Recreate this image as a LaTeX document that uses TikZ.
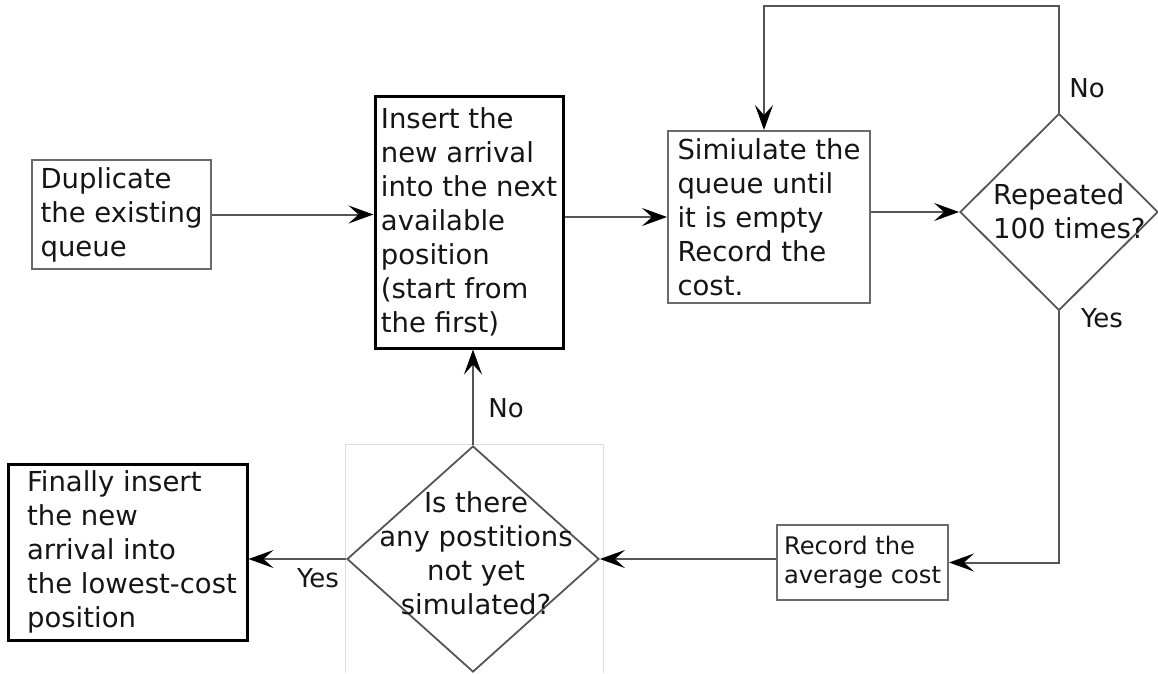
\documentclass[tikz,border=0pt]{standalone}
\usepackage{fontspec}
\setmainfont{DejaVu Sans}
\usetikzlibrary{shapes.geometric,arrows.meta}
\definecolor{linegray}{HTML}{555555}
\definecolor{boxgray}{HTML}{6A6A6A}
\definecolor{txt}{HTML}{151515}
\definecolor{framegray}{HTML}{DDDDDD}
\begin{document}
\begin{tikzpicture}[x=1pt,y=-1pt,
  box/.style={draw=boxgray,line width=2pt,rectangle,inner sep=0pt,align=left,text=txt,font=\fontsize{27.5}{34}\selectfont},
  boldbox/.style={box,draw=black,line width=3pt},
  smallbox/.style={box,font=\fontsize{24.2}{29}\selectfont},
  dec/.style={draw=linegray,line width=1.8pt,diamond,inner sep=0pt},
  dectext/.style={inner sep=0pt,text=txt,font=\fontsize{27.5}{34}\selectfont},
  lbl/.style={text=txt,font=\fontsize{26}{30}\selectfont,inner sep=0pt},
  conn/.style={draw=linegray,line width=2pt,-{Stealth[length=25pt,width=18pt,inset=10pt,color=black]}},
]
\useasboundingbox (0,0) rectangle (1158,673);
\draw[framegray,line width=1pt] (345,673) -- (345,444) -- (603,444) -- (603,673);

\node[box,minimum width=179pt,minimum height=109pt] (dup) at (121.5,214.5) {Duplicate\\the existing\\queue};
\node[boldbox,minimum width=188pt,minimum height=252pt] (ins) at (469,222) {Insert the\\new arrival\\into the next\\available\\position\\(start from\\the first)};
\node[box,minimum width=202pt,minimum height=172pt] (sim) at (769,217) {Simiulate the\\queue until\\it is empty\\Record the\\cost.};
\node[dec,minimum width=198pt,minimum height=197pt] (rep) at (1059,212) {};
\node[dectext,align=left,anchor=north west] (reptxt) at (993,183) {Repeated\\100 times?};
\node[smallbox,minimum width=171pt,minimum height=75pt] (avg) at (862.5,562.5) {Record the\\average cost};
\node[dec,minimum width=252pt,minimum height=226pt] (pos) at (473,559) {};
\node[dectext,align=center,anchor=north] (postxt) at (476,491) {Is there\\any postitions\\not yet\\simulated?};
\node[boldbox,minimum width=239pt,minimum height=176pt] (fin) at (127.5,552) {};
\node[dectext,align=left] (fintxt) at (132,552) {Finally insert\\the new\\arrival into\\the lowest-cost\\position};

\coordinate (looptop) at (764,6);
\draw[conn] (dup.east) -- (dup.east -| ins.west);
\draw[conn] (sim.west -| ins.east) -- (sim.west);
\draw[conn] (sim.east |- rep.west) -- (rep.west);
\draw[conn] (rep.north) |- (looptop) -- (looptop |- sim.north);
\draw[conn] (rep.south) |- (avg.east);
\draw[conn] (avg.west |- pos.east) -- (pos.east);
\draw[conn] (pos.west) -- (pos.west -| fin.east);
\draw[conn] (pos.north) -- (pos.north |- ins.south);

\node[lbl] (no1) at (1087,88) {No};
\node[lbl] (yes1) at (1102,318) {Yes};
\node[lbl] (no2) at (506,408) {No};
\node[lbl] (yes2) at (318,578) {Yes};
\end{tikzpicture}
\end{document}
